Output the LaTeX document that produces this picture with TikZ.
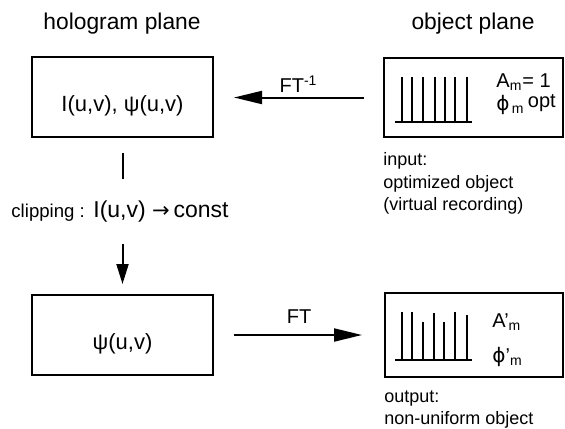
\documentclass[tikz,border=0pt]{standalone}
\usepackage{fontspec}
\setmainfont{Liberation Sans}
\newfontfamily\symfont{DejaVu Sans}
\usetikzlibrary{arrows.meta,positioning}

\tikzset{
  planebox/.style={draw, line width=1pt, inner sep=0pt,
                   minimum width=90.5pt, minimum height=40pt},
  boxtext/.style={font=\fontsize{11}{13}\selectfont, text height=16pt, text depth=2pt},
  headtext/.style={font=\fontsize{11.4}{13}\selectfont},
  lbl/.style={font=\fontsize{9}{11.3}\selectfont, align=left, inner sep=0pt},
  flow/.style={line width=1pt, -{Triangle[length=14pt,width=6.5pt]}},
  spike/.style={line width=1pt},
}

\begin{document}
\begin{tikzpicture}[x=0.5pt,y=-0.5pt]
  \useasboundingbox (0,0) rectangle (565,428);

  % column headings
  \node[headtext] (hhead) at (122,24) {hologram plane};
  \node[headtext] (ohead) at (473,24) {object plane};

  % the four boxes
  \node[planebox, boxtext] (holo) at (122.5,97) {I(u,v), ψ(u,v)};
  \node[planebox, minimum width=89.5pt, minimum height=39.5pt] (obj) at (473.5,97.5) {};
  \node[planebox, boxtext] (psi) at (122.5,335) {ψ(u,v)};
  \node[planebox, minimum width=89pt, minimum height=42pt] (out) at (474,335) {};

  % input spectrum: equal amplitudes
  \draw[spike] (395,122) -- (472,122);
  \foreach \x in {402,412,423,435,445,455,467}
    \draw[spike] (\x,122) -- (\x,77);
  \node[lbl, font=\fontsize{10}{11.5}\selectfont, anchor=west] (ampin) at (496,94)
       {A\textsubscript{m}= 1\\{\symfont ϕ}\textsubscript{\,m}\,\raisebox{1.5pt}{opt}};

  % output spectrum: non-uniform amplitudes
  \draw[spike] (395,360) -- (472,360);
  \foreach \x/\t in {402/312,412/312,423/322,434/313,444/322,455/312,467/315}
    \draw[spike] (\x,360) -- (\x,\t);
  \node[lbl, font=\fontsize{10}{11.5}\selectfont, anchor=west] (ampout) at (492,322)
       {A’\textsubscript{m}};
  \node[lbl, font=\fontsize{10}{11.5}\selectfont, anchor=west] (phout) at (492,357)
       {{\symfont ϕ}’\textsubscript{m}};

  % captions under the object boxes
  \node[lbl, below right=7pt and 0pt of obj.south west] (inlbl)
       {input:\\optimized object\\(virtual recording)};
  \node[lbl, below right=6pt and 0pt of out.south west] (outlbl)
       {output:\\non-uniform object};

  % clipping step
  \node[inner sep=0pt, font=\fontsize{11.5}{13}\selectfont] (clip) at (120,212)
       {{\fontsize{9.3}{10}\selectfont clipping :} I(u,v) {\symfont\fontsize{10.5}{12}\selectfont →}\,const};
  \draw[line width=1pt, shorten <=7.5pt, shorten >=11pt] (holo.south) -- (holo.south |- clip.north);
  \draw[line width=1pt, -{Triangle[length=10pt,width=6pt]}, shorten <=10.5pt, shorten >=5pt]
       (psi.north |- clip.south) -- (psi.north);

  % transforms
  \draw[flow, shorten <=9.5pt, shorten >=10pt] (obj.west) -- (holo.east |- obj.west)
       node[midway, above=-1.5pt, font=\fontsize{10}{12}\selectfont] (ftinv) {FT\textsuperscript{-1}};
  \draw[flow, shorten <=10pt, shorten >=11pt] (psi.east |- out.west) -- (out.west)
       node[midway, above=2pt, font=\fontsize{10}{12}\selectfont] (ft) {FT};
\end{tikzpicture}
\end{document}
